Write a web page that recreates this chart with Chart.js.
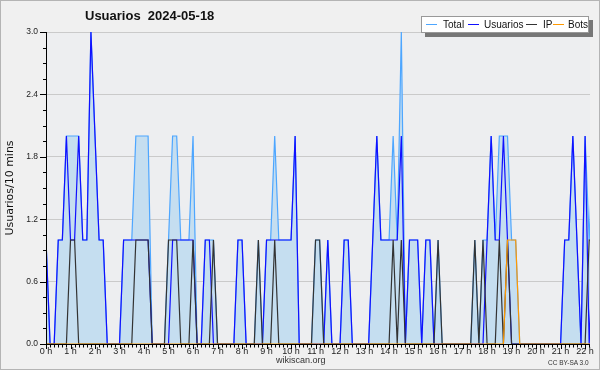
<!DOCTYPE html>
<html>
<head>
<meta charset="utf-8">
<script src="https://cdn.jsdelivr.net/npm/chart.js@4.4.1/dist/chart.umd.min.js"></script>
<style>
  html, body { margin: 0; padding: 0; }
  body { width: 600px; height: 370px; background: #f0f0f0; position: relative; overflow: hidden; font-family: "DejaVu Sans", sans-serif; }
  #frame { position: absolute; left: 0; top: 0; width: 598px; height: 368px; border: 1px solid #b4b4b4; }
  #chart { position: absolute; left: 0; top: 0; }
  .title { position: absolute; left: 85px; top: 8px; font: bold 13px "Liberation Sans", sans-serif; color: #111; white-space: pre; }
  .legend { position: absolute; left: 421px; top: 16px; width: 166px; height: 15px; background: #fff; border: 1px solid #999; box-shadow: 4px 4px 0 #777; font: 10px "Liberation Sans", sans-serif; color: #111; }
  .legend span { position: absolute; top: 2px; line-height: 11px; white-space: nowrap; }
  .legend i { position: absolute; top: 7px; height: 1px; width: 11px; }
  .foot { position: absolute; font-family: "Liberation Sans", sans-serif; color: #333; white-space: nowrap; }
</style>
</head>
<body>
<div id="frame"></div>
<canvas id="chart" width="600" height="370"></canvas>
<div class="title">Usuarios  2024-05-18</div>
<div class="legend">
  <i style="left:4px;background:#4da6ff"></i><span style="left:21px">Total</span>
  <i style="left:46px;background:#1010ff"></i><span style="left:62px">Usuarios</span>
  <i style="left:104px;background:#333"></i><span style="left:121px">IP</span>
  <i style="left:131px;background:#ff9900"></i><span style="left:146px">Bots</span>
</div>
<div class="foot" style="left:276px;top:355px;font-size:9px">wikiscan.org</div>
<div class="foot" style="left:548px;top:359px;font-size:6.5px">CC BY-SA 3.0</div>
<script>
// one value every 10 minutes, 6 per hour
const slotMinutes = 10;
const hourLabels = ['0 h', '1 h', '2 h', '3 h', '4 h', '5 h', '6 h', '7 h', '8 h', '9 h', '10 h', '11 h',
  '12 h', '13 h', '14 h', '15 h', '16 h', '17 h', '18 h', '19 h', '20 h', '21 h', '22 h'];
const yTicks = [0, 0.6, 1.2, 1.8, 2.4, 3.0];

const total = [
  1, 0, 0, 1, 1, 2,  2, 2, 2, 1, 1, 3,  2, 1, 1, 0, 0, 0,  0, 1, 1, 1, 2, 2,
  2, 2, 0, 0, 0, 0,  1, 2, 2, 1, 1, 1,  2, 0, 0, 1, 1, 1,  0, 0, 0, 0, 0, 1,
  1, 0, 0, 0, 1, 0,  1, 1, 2, 1, 1, 1,  1, 2, 0, 0, 0, 0,  1, 1, 0, 1, 0, 0,
  0, 1, 1, 0, 0, 0,  0, 0, 1, 2, 1, 1,  1, 2, 1, 3, 0, 1,  1, 1, 0, 1, 1, 0,
  1, 0, 0, 0, 0, 0,  0, 0, 0, 1, 0, 1,  1, 2, 1, 2, 2, 2,  1, 1, 0, 0, 0, 0,
  0, 0, 0, 0, 0, 0,  0, 1, 1, 2, 1, 0,  2, 1, 2
];
const usuarios = [
  1, 0, 0, 1, 1, 2,  1, 1, 2, 1, 1, 3,  2, 1, 1, 0, 0, 0,  0, 1, 1, 1, 1, 1,
  1, 1, 0, 0, 0, 0,  0, 1, 1, 1, 1, 1,  1, 0, 0, 1, 1, 0,  0, 0, 0, 0, 0, 1,
  1, 0, 0, 0, 0, 0,  1, 1, 1, 1, 1, 1,  1, 2, 0, 0, 0, 0,  0, 0, 0, 1, 0, 0,
  0, 1, 1, 0, 0, 0,  0, 0, 1, 2, 1, 1,  1, 1, 1, 2, 0, 1,  1, 1, 0, 1, 1, 0,
  0, 0, 0, 0, 0, 0,  0, 0, 0, 0, 0, 0,  1, 2, 1, 1, 2, 1,  0, 0, 0, 0, 0, 0,
  0, 0, 0, 0, 0, 0,  0, 1, 1, 2, 1, 0,  2, 0, 1
];
const ip = [
  0, 0, 0, 0, 0, 0,  1, 1, 0, 0, 0, 0,  0, 0, 0, 0, 0, 0,  0, 0, 0, 0, 1, 1,
  1, 1, 0, 0, 0, 0,  1, 1, 1, 0, 0, 0,  1, 0, 0, 0, 0, 1,  0, 0, 0, 0, 0, 0,
  0, 0, 0, 0, 1, 0,  0, 0, 1, 0, 0, 0,  0, 0, 0, 0, 0, 0,  1, 1, 0, 0, 0, 0,
  0, 0, 0, 0, 0, 0,  0, 0, 0, 0, 0, 0,  0, 1, 0, 1, 0, 0,  0, 0, 0, 0, 0, 0,
  1, 0, 0, 0, 0, 0,  0, 0, 0, 1, 0, 1,  0, 0, 0, 1, 0, 1,  0, 0, 0, 0, 0, 0,
  0, 0, 0, 0, 0, 0,  0, 0, 0, 0, 0, 0,  0, 1, 1
];
const bots = [
  0, 0, 0, 0, 0, 0,  0, 0, 0, 0, 0, 0,  0, 0, 0, 0, 0, 0,  0, 0, 0, 0, 0, 0,
  0, 0, 0, 0, 0, 0,  0, 0, 0, 0, 0, 0,  0, 0, 0, 0, 0, 0,  0, 0, 0, 0, 0, 0,
  0, 0, 0, 0, 0, 0,  0, 0, 0, 0, 0, 0,  0, 0, 0, 0, 0, 0,  0, 0, 0, 0, 0, 0,
  0, 0, 0, 0, 0, 0,  0, 0, 0, 0, 0, 0,  0, 0, 0, 0, 0, 0,  0, 0, 0, 0, 0, 0,
  0, 0, 0, 0, 0, 0,  0, 0, 0, 0, 0, 0,  0, 0, 0, 0, 0, 1,  1, 1, 0, 0, 0, 0,
  0, 0, 0, 0, 0, 0,  0, 0, 0, 0, 0, 0,  0, 0, 0
];

const toPoints = (values) => values.map((v, i) => ({ x: i * slotMinutes, y: v }));

const line = (label, values, color, order, extra) => Object.assign({
  label,
  data: toPoints(values),
  borderColor: color,
  borderWidth: 1.2,
  pointRadius: 0,
  tension: 0,
  fill: false,
  order,
}, extra || {});

// plot background + axis lines and tick marks (minor every 10 min / 0.15)
const axisPlugin = {
  id: 'axisPlugin',
  beforeDraw(chart) {
    const { ctx, chartArea: a } = chart;
    ctx.save();
    ctx.fillStyle = '#edeef0';
    ctx.fillRect(a.left, a.top, a.right - a.left, a.bottom - a.top);
    ctx.restore();
  },
  afterDraw(chart) {
    const { ctx, chartArea: a, scales: { x, y } } = chart;
    ctx.save();
    ctx.strokeStyle = '#000';
    ctx.lineWidth = 1;
    ctx.beginPath();
    ctx.moveTo(a.left + 0.5, a.top);
    ctx.lineTo(a.left + 0.5, a.bottom + 0.5);
    ctx.lineTo(a.right, a.bottom + 0.5);
    for (let m = 0; m <= x.max; m += slotMinutes) {
      const px = Math.round(x.getPixelForValue(m)) + 0.5;
      ctx.moveTo(px, a.bottom);
      ctx.lineTo(px, a.bottom + (m % 60 ? 3.5 : 5));
    }
    for (let k = 0; k <= 20; k++) {
      const py = Math.round(y.getPixelForValue(k * 0.15)) + 0.5;
      ctx.moveTo(a.left, py);
      ctx.lineTo(a.left - (k % 4 ? 3 : 6), py);
    }
    ctx.stroke();
    ctx.restore();
  },
};

new Chart(document.getElementById('chart'), {
  type: 'line',
  data: {
    datasets: [
      line('Total', total, '#4da6ff', 4, { fill: 'origin', backgroundColor: '#c5def0' }),
      line('Usuarios', usuarios, '#1010ff', 3),
      line('IP', ip, '#333333', 2),
      line('Bots', bots, '#ff9900', 1),
    ],
  },
  options: {
    responsive: false,
    animation: false,
    layout: { padding: { top: 32, right: 10, left: 0, bottom: 0 } },
    plugins: { legend: { display: false }, tooltip: { enabled: false } },
    scales: {
      x: {
        type: 'linear',
        min: 0,
        max: 1332,
        grid: { display: false, drawTicks: false },
        border: { display: false },
        afterFit: (s) => { s.height = 26; },
        ticks: {
          stepSize: 60,
          includeBounds: false,
          autoSkip: false,
          maxRotation: 0,
          padding: 2,
          color: '#222',
          font: { family: 'Liberation Sans', size: 9 },
          callback: (v) => hourLabels[v / 60],
        },
      },
      y: {
        min: 0,
        max: 3,
        afterFit: (s) => { s.width = 46; },
        afterBuildTicks: (s) => { s.ticks = yTicks.map((v) => ({ value: v })); },
        grid: { color: '#cacaca', drawTicks: false },
        border: { display: false },
        ticks: {
          padding: 8,
          color: '#222',
          font: { family: 'Liberation Sans', size: 8.5 },
          callback: (v) => v.toFixed(1),
        },
        title: {
          display: true,
          text: 'Usuarios/10 mins',
          color: '#111',
          padding: { top: 4, bottom: 0 },
          font: { family: 'DejaVu Sans', size: 11 },
        },
      },
    },
  },
  plugins: [axisPlugin],
});
</script>
</body>
</html>
